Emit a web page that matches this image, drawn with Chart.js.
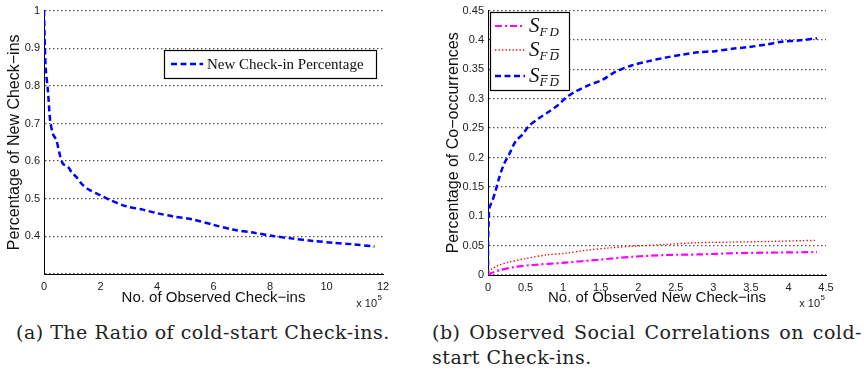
<!DOCTYPE html>
<html>
<head>
<meta charset="utf-8">
<script src="https://cdn.jsdelivr.net/npm/chart.js@4/dist/chart.umd.min.js"></script>
<style>
  html, body { margin: 0; padding: 0; background: #fff; }
  body { width: 864px; height: 371px; position: relative; overflow: hidden; }
  .wrap { position: absolute; top: 0; width: 432px; height: 310px; }
  .cap { position: absolute; font-family: "DejaVu Serif", serif; font-size: 19px; letter-spacing: 0.5px; line-height: 22px; color: #222; white-space: nowrap; }
</style>
</head>
<body>
<div class="wrap" style="left:0"><canvas id="left"></canvas></div>
<div class="wrap" style="left:432px"><canvas id="right"></canvas></div>
<div class="cap" style="left:16px; top:321px;">(a) The Ratio of cold-start Check-ins.</div>
<div class="cap" style="left:432px; top:321px; width:430px; text-align:justify; text-align-last:justify;">(b) Observed Social Correlations on cold-</div>
<div class="cap" style="left:432px; top:346px;">start Check-ins.</div>

<script>
// (a) share of check-ins that are new, x in units of 1e5
const ratioX = [0, 0.02, 0.06, 0.14, 0.22, 0.32, 0.44, 0.55, 0.67, 0.85, 0.97, 1.14, 1.38, 1.62, 1.97,
  2.32, 2.91, 3.5, 3.98, 4.57, 5.27, 5.98, 6.69, 7.4, 8.1, 8.81, 9.52, 10.23, 10.94, 11.7];
const ratioY = [1.0, 0.934, 0.847, 0.786, 0.707, 0.672, 0.655, 0.62, 0.593, 0.585, 0.571, 0.558, 0.536, 0.523, 0.51,
  0.497, 0.48, 0.471, 0.462, 0.453, 0.445, 0.431, 0.418, 0.41, 0.401, 0.394, 0.388, 0.383, 0.379, 0.373];

// (b) co-occurrence percentages, x in units of 1e5
const fdX = [0, 0.04, 0.15, 0.37, 0.59, 1.03, 1.47, 1.92, 2.36, 2.8, 3.25, 3.69, 4.38];
const fdY = [0, 0.003, 0.008, 0.014, 0.017, 0.021, 0.026, 0.031, 0.034, 0.035, 0.037, 0.038, 0.039];
const fdbX = [0, 0.01, 0.06, 0.15, 0.28, 0.5, 0.77, 1.03, 1.3, 1.61, 1.92, 2.36, 2.8, 3.25, 3.69, 4.38];
const fdbY = [0, 0.008, 0.011, 0.017, 0.022, 0.028, 0.034, 0.037, 0.042, 0.046, 0.049, 0.052, 0.055, 0.056, 0.057, 0.059];
const fbdbX = [0, 0.0, 0.01, 0.02, 0.06, 0.1, 0.15, 0.21, 0.28, 0.37, 0.46, 0.54, 0.68, 0.81, 0.94, 1.03, 1.16,
  1.34, 1.52, 1.7, 1.92, 2.14, 2.36, 2.58, 2.8, 3.02, 3.25, 3.47, 3.69, 3.91, 4.13, 4.38];
const fbdbY = [0, 0.048, 0.098, 0.115, 0.127, 0.143, 0.166, 0.188, 0.205, 0.228, 0.239, 0.253, 0.267, 0.278, 0.29, 0.301, 0.312,
  0.323, 0.332, 0.346, 0.357, 0.364, 0.37, 0.375, 0.379, 0.381, 0.385, 0.388, 0.392, 0.397, 0.399, 0.403];

const leftTicksX = [0, 2, 4, 6, 8, 10, 12];
const rightTicksX = [0, 0.5, 1, 1.5, 2, 2.5, 3, 3.5, 4, 4.5];

const pts = (xs, ys) => xs.map((x, i) => ({ x: x, y: ys[i] }));
const SANS = '"Liberation Sans", Arial, sans-serif';
const SERIF = '"Liberation Serif", serif';

// legend box + "x 10^5" exponent note
const extras = {
  id: 'extras',
  afterDraw(chart, args, opts) {
    const ctx = chart.ctx;
    const area = chart.chartArea;
    ctx.save();
    ctx.fillStyle = '#222';
    ctx.textBaseline = 'alphabetic';
    ctx.textAlign = 'right';
    const ex = area.right - 1;
    ctx.font = '8px ' + SANS;
    ctx.fillText('5', ex, 300);
    const w5 = ctx.measureText('5').width;
    ctx.font = '11px ' + SANS;
    ctx.fillText('x 10', ex - w5 - 0.5, 307);

    const b = opts.box;
    ctx.fillStyle = '#fff';
    ctx.fillRect(b[0], b[1], b[2] - b[0], b[3] - b[1]);
    ctx.strokeStyle = '#000';
    ctx.lineWidth = 1.2;
    ctx.strokeRect(b[0] + 0.5, b[1] + 0.5, b[2] - b[0], b[3] - b[1]);
    opts.items.forEach((it, i) => {
      const ds = chart.data.datasets[i];
      ctx.save();
      ctx.strokeStyle = ds.borderColor;
      ctx.lineWidth = ds.borderWidth;
      ctx.setLineDash(ds.borderDash || []);
      ctx.beginPath();
      ctx.moveTo(it.x, it.y);
      ctx.lineTo(it.x + opts.sample, it.y);
      ctx.stroke();
      ctx.restore();
      ctx.fillStyle = '#111';
      ctx.textAlign = 'left';
      const tx = it.x + opts.sample + 4;
      if (it.label) {
        ctx.font = '15px ' + SERIF;
        ctx.textBaseline = 'middle';
        ctx.fillText(it.label, tx, it.y + 1);
      } else {
        ctx.textBaseline = 'alphabetic';
        ctx.font = 'italic 21px ' + SERIF;
        const base = it.y + 6;
        ctx.fillText('S', tx, base);
        let sx = tx + ctx.measureText('S').width;
        ctx.font = 'italic 13px ' + SERIF;
        it.sub.forEach(s => {
          const w = ctx.measureText(s.c).width;
          ctx.fillText(s.c, sx, base + 4);
          if (s.bar) {
            ctx.beginPath();
            ctx.lineWidth = 0.9;
            ctx.strokeStyle = '#111';
            ctx.moveTo(sx + 1.5, base - 6.5);
            ctx.lineTo(sx + w + 0.5, base - 6.5);
            ctx.stroke();
          }
          sx += w + 2;
        });
      }
    });
    ctx.restore();
  }
};

function baseScales(cfg) {
  return {
    x: {
      type: 'linear', min: cfg.xmin, max: cfg.xmax,
      afterFit: s => { s.height = cfg.xh; },
      afterBuildTicks: s => { s.ticks = cfg.xticks.map(v => ({ value: v })); },
      grid: { display: false, drawTicks: false },
      border: { display: true, color: '#000', width: 1 },
      ticks: { color: '#222', font: { family: SANS, size: 11 }, padding: 6, maxRotation: 0,
        callback: v => String(v) },
      title: { display: true, text: cfg.xtitle, color: '#111', font: { family: SANS, size: 15 },
        padding: { top: 0, bottom: 3 } }
    },
    y: {
      type: 'linear', min: cfg.ymin, max: cfg.ymax,
      afterFit: s => { s.width = cfg.yw; },
      grid: { display: true, drawOnChartArea: true, drawTicks: false, color: '#555', lineWidth: 1.3 },
      border: { display: true, color: '#000', width: 1, dash: [1.5, 2.5] },
      ticks: { color: '#222', font: { family: SANS, size: 11 }, padding: 4, stepSize: cfg.ystep,
        callback: cfg.ylabel },
      title: { display: true, text: cfg.ytitle, color: '#111', font: { family: SANS, size: 16 },
        padding: { top: 0, bottom: 0 } }
    }
  };
}

new Chart(document.getElementById('left'), {
  type: 'line',
  data: {
    datasets: [{
      data: pts(ratioX, ratioY),
      borderColor: '#0000ff', borderWidth: 2.5, borderDash: [6, 3.5],
      pointRadius: 0, tension: 0.3, fill: false
    }]
  },
  options: {
    responsive: true, maintainAspectRatio: false, animation: false,
    layout: { padding: { left: 5, right: 49, top: 8, bottom: 0 } },
    plugins: {
      legend: { display: false }, tooltip: { enabled: false },
      extras: {
        box: [164, 50, 376, 78], sample: 32,
        items: [{ x: 171, y: 64, label: 'New Check-in Percentage' }]
      }
    },
    scales: baseScales({
      xmin: 0, xmax: 12, xh: 36, xticks: leftTicksX, xtitle: 'No. of Observed Check\u2212ins',
      ymin: 0.3, ymax: 1, ystep: 0.1, yw: 39, ytitle: 'Percentage of New Check\u2212ins',
      ylabel: v => (Math.abs(v - 0.3) < 1e-6 ? '' : String(+v.toFixed(1)))
    })
  },
  plugins: [extras]
});

new Chart(document.getElementById('right'), {
  type: 'line',
  data: {
    datasets: [
      { data: pts(fdX, fdY), borderColor: '#ff00ff', borderWidth: 2.2, borderDash: [7, 3, 2, 3],
        pointRadius: 0, tension: 0.3, fill: false },
      { data: pts(fdbX, fdbY), borderColor: '#ff0000', borderWidth: 1.4, borderDash: [1.3, 2.2],
        pointRadius: 0, tension: 0.3, fill: false },
      { data: pts(fbdbX, fbdbY), borderColor: '#0000ff', borderWidth: 2.5, borderDash: [6, 3.5],
        pointRadius: 0, tension: 0.3, fill: false }
    ]
  },
  options: {
    responsive: true, maintainAspectRatio: false, animation: false,
    layout: { padding: { left: 12, right: 38, top: 8, bottom: 0 } },
    plugins: {
      legend: { display: false }, tooltip: { enabled: false },
      extras: {
        box: [58, 12, 137, 90], sample: 30,
        items: [
          { x: 63, y: 26, sub: [{ c: 'F' }, { c: 'D' }] },
          { x: 63, y: 50, sub: [{ c: 'F' }, { c: 'D', bar: true }] },
          { x: 63, y: 76, sub: [{ c: 'F', bar: true }, { c: 'D', bar: true }] }
        ]
      }
    },
    scales: baseScales({
      xmin: 0, xmax: 4.5, xh: 35, xticks: rightTicksX, xtitle: 'No. of Observed New Check\u2212ins',
      ymin: 0, ymax: 0.45, ystep: 0.05, yw: 44, ytitle: 'Percentage of Co\u2212occurrences',
      ylabel: v => String(+v.toFixed(2))
    })
  },
  plugins: [extras]
});
</script>
</body>
</html>
